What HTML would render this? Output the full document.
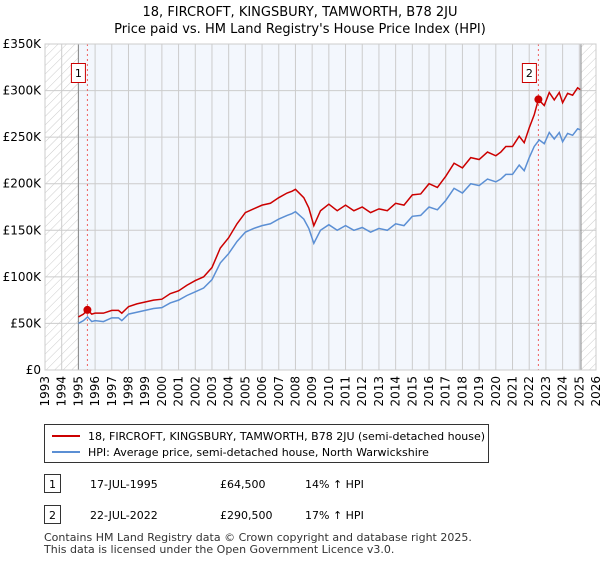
<!DOCTYPE html>
<html><head><meta charset="utf-8"><style>
body{margin:0;background:#fff;font-family:"Liberation Sans","DejaVu Sans",sans-serif;}
svg text{font-family:"DejaVu Sans","Liberation Sans",sans-serif;}
</style></head><body>
<svg id="c" width="600" height="560" xmlns="http://www.w3.org/2000/svg">
<defs><pattern id="h" width="6" height="6" patternUnits="userSpaceOnUse" patternTransform="rotate(45)"><line x1="0" y1="0" x2="0" y2="6" stroke="#ccc" stroke-width="1"/></pattern></defs>
<text x="300" y="16" text-anchor="middle" font-size="13">18, FIRCROFT, KINGSBURY, TAMWORTH, B78 2JU</text>
<text x="300" y="33" text-anchor="middle" font-size="13">Price paid vs. HM Land Registry's House Price Index (HPI)</text>
<g id="plot"></g>
<g>
<rect x="44.5" y="424.5" width="444" height="38" fill="#fff" stroke="#333"/>
<line x1="52" y1="436" x2="80" y2="436" stroke="#cc0000" stroke-width="2"/>
<text x="88" y="440" font-size="11">18, FIRCROFT, KINGSBURY, TAMWORTH, B78 2JU (semi-detached house)</text>
<line x1="52" y1="452" x2="80" y2="452" stroke="#5b8fd4" stroke-width="2"/>
<text x="88" y="456" font-size="11">HPI: Average price, semi-detached house, North Warwickshire</text>
</g>
<g font-size="11">
<rect x="44.5" y="474.5" width="16" height="18" fill="#fff" stroke="#333"/><text x="52.5" y="488" text-anchor="middle">1</text>
<text x="90" y="488">17-JUL-1995</text><text x="220" y="488">£64,500</text><text x="305" y="488">14% ↑ HPI</text>
<rect x="44.5" y="505.5" width="16" height="18" fill="#fff" stroke="#333"/><text x="52.5" y="519" text-anchor="middle">2</text>
<text x="90" y="519">22-JUL-2022</text><text x="220" y="519">£290,500</text><text x="305" y="519">17% ↑ HPI</text>
</g>
<text x="44" y="541" font-size="11" fill="#333">Contains HM Land Registry data © Crown copyright and database right 2025.</text>
<text x="44" y="553" font-size="11" fill="#333">This data is licensed under the Open Government Licence v3.0.</text>
</svg>
<script>
const hpiYears=[1995,1995.3,1995.55,1995.8,1996,1996.5,1997,1997.4,1997.6,1998,1998.5,1999,1999.5,2000,2000.5,2001,2001.5,2002,2002.5,2003,2003.5,2004,2004.5,2005,2005.5,2006,2006.5,2007,2007.5,2007.8,2008,2008.5,2008.8,2009.1,2009.5,2010,2010.5,2011,2011.5,2012,2012.5,2013,2013.5,2014,2014.5,2015,2015.5,2016,2016.5,2017,2017.5,2018,2018.5,2019,2019.5,2020,2020.3,2020.6,2021,2021.4,2021.7,2022,2022.3,2022.6,2022.9,2023.2,2023.5,2023.8,2024,2024.3,2024.6,2024.9,2025.05];
const hpiValues=[50,53,57,52,53,52,56,56,53,60,62,64,66,67,72,75,80,84,88,97,115,125,138,148,152,155,157,162,166,168,170,162,152,136,150,156,150,155,150,153,148,152,150,157,155,165,166,175,172,182,195,190,200,198,205,202,205,210,210,220,214,228,240,247,243,255,248,255,245,254,252,259,258];
const priceYears=[1995,1995.3,1995.55,1995.8,1996,1996.5,1997,1997.4,1997.6,1998,1998.5,1999,1999.5,2000,2000.5,2001,2001.5,2002,2002.5,2003,2003.5,2004,2004.5,2005,2005.5,2006,2006.5,2007,2007.5,2007.8,2008,2008.5,2008.8,2009.1,2009.5,2010,2010.5,2011,2011.5,2012,2012.5,2013,2013.5,2014,2014.5,2015,2015.5,2016,2016.5,2017,2017.5,2018,2018.5,2019,2019.5,2020,2020.3,2020.6,2021,2021.4,2021.7,2022,2022.3,2022.55,2022.9,2023.2,2023.5,2023.8,2024,2024.3,2024.6,2024.9,2025.05];
const priceValues=[57,60,64.5,60,61,61,64,64,61,68,71,73,75,76,82,85,91,96,100,110,131,142,157,169,173,177,179,185,190,192,194,185,174,155,171,178,171,177,171,175,169,173,171,179,177,188,189,200,196,208,222,217,228,226,234,230,234,240,240,251,244,260,274,290.5,284,298,290,298,287,297,295,303,301];
const sales=[{year:1995.54,value:64.5,label:"1"},{year:2022.55,value:290.5,label:"2"}];
const yTicks=[0,50,100,150,200,250,300,350];
const yTickLabels=["£0","£50K","£100K","£150K","£200K","£250K","£300K","£350K"];
const xYears=[1993,1994,1995,1996,1997,1998,1999,2000,2001,2002,2003,2004,2005,2006,2007,2008,2009,2010,2011,2012,2013,2014,2015,2016,2017,2018,2019,2020,2021,2022,2023,2024,2025,2026];
const L=45,R=596,T=44,B=370,x0=1993,x1=2026,yMax=350;
const X=v=>L+(v-x0)/(x1-x0)*(R-L), Y=v=>B-v/yMax*(B-T);
const NS="http://www.w3.org/2000/svg", g=document.getElementById('plot');
function mk(t,a,p){const e=document.createElementNS(NS,t);for(const k in a)e.setAttribute(k,a[k]);(p||g).appendChild(e);return e;}
let e;
e=mk('rect',{x:X(1995),y:T,width:X(2025.1)-X(1995),height:B-T,fill:'#f3f7fd'});


e=mk('rect',{x:L,y:T,width:X(1995)-L,height:B-T,fill:'url(#h)'});


e=mk('rect',{x:X(2025.1),y:T,width:R-X(2025.1),height:B-T,fill:'url(#h)'});


xYears.forEach(yr=>{
 e=mk('line',{x1:X(yr),x2:X(yr),y1:T,y2:B,stroke:'#ccc'});
 
 
 const tx=X(yr)+4,ty=B+6;
 e=mk('text',{x:tx,y:ty,transform:`rotate(-90 ${tx} ${ty})`,'text-anchor':'end','font-size':'12'});
 e.textContent=yr;
 
 
});
yTicks.forEach((v,i)=>{
 e=mk('line',{x1:L,x2:R,y1:Y(v),y2:Y(v),stroke:'#ccc'});
 
 
 e=mk('text',{x:L-4,y:Y(v)+4,'text-anchor':'end','font-size':'12'});
 e.textContent=yTickLabels[i];
 
 
});
e=mk('line',{x1:X(1995),x2:X(1995),y1:T,y2:B,stroke:'#888'});


e=mk('line',{x1:X(2025.1),x2:X(2025.1),y1:T,y2:B,stroke:'#888'});


sales.forEach(s=>{
 e=mk('line',{x1:X(s.year),x2:X(s.year),y1:T,y2:B,stroke:'#f06060','stroke-dasharray':'2,3'});
 
 
});
e=mk('polyline',{points:hpiYears.map((y,i)=>X(y)+','+Y(hpiValues[i])).join(' '),fill:'none',stroke:'#5b8fd4','stroke-width':1.5});


e=mk('polyline',{points:priceYears.map((y,i)=>X(y)+','+Y(priceValues[i])).join(' '),fill:'none',stroke:'#cc0000','stroke-width':1.5});


sales.forEach(s=>{
 e=mk('circle',{cx:X(s.year),cy:Y(s.value),r:4,fill:'#cc0000'});
 
 
 e=mk('rect',{x:X(s.year)-16,y:63.5,width:14,height:19,fill:'#fff',stroke:'#cc0000'});
 
 
 e=mk('text',{x:X(s.year)-9,y:77,'text-anchor':'middle','font-size':'11'});
 e.textContent=s.label;
 
 
});
e=mk('rect',{x:L,y:T,width:R-L,height:B-T,fill:'none',stroke:'#ccc'});


</script>
</body></html>
